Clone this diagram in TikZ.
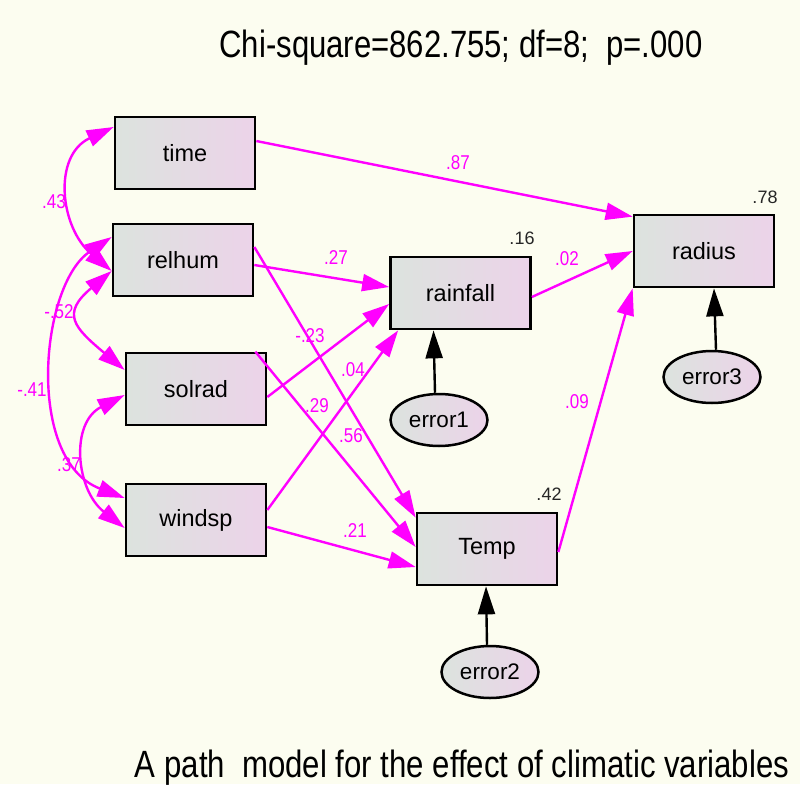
\documentclass[tikz,border=0pt]{standalone}
\usepackage{fontspec}
\usepackage{graphicx}
\setmainfont{Liberation Sans}
\usetikzlibrary{arrows.meta,calc,shapes.geometric}
\definecolor{bgcream}{RGB}{252,253,240}
\definecolor{amosmag}{RGB}{255,0,255}
\definecolor{boxleft}{RGB}{220,227,222}
\definecolor{boxright}{RGB}{236,211,233}
\newcommand{\coefnum}[1]{\scalebox{0.85}[1]{#1}}

\begin{document}
\begin{tikzpicture}[x=1pt,y=-1pt,
  varbox/.style={rectangle, draw=black, line width=2.7pt,
    minimum width=140pt, minimum height=72pt, inner sep=0pt,
    left color=boxleft, right color=boxright,
    font=\fontsize{23.5}{26}\selectfont},
  errnode/.style={ellipse, draw=black, line width=2.5pt,
    minimum width=97pt, minimum height=52pt, inner sep=0pt,
    left color=boxleft, right color=boxright,
    font=\fontsize{22.5}{25}\selectfont},
  regpath/.style={draw=amosmag, line width=2.4pt,
    -{Triangle[length=27pt,width=17pt]}},
  covpath/.style={draw=amosmag, line width=2.4pt,
    {Triangle[length=27pt,width=17pt]}-{Triangle[length=27pt,width=17pt]}},
  errpath/.style={draw=black, line width=2.4pt,
    -{Triangle[length=28pt,width=17pt]}},
  coef/.style={text=amosmag, font=\fontsize{20}{22}\selectfont, inner sep=0pt},
  rsq/.style={text=black!85, font=\fontsize{18}{20}\selectfont, inner sep=0pt},
]
% page and background
\fill[bgcream] (0,0) rectangle (800,784);
\useasboundingbox (0,0) rectangle (800,784);

% title and caption
\node[anchor=base, inner sep=0pt] (title) at (461,57)
  {\fontsize{38}{40}\selectfont\scalebox{0.818}[1]{Chi-square=862.755; df=8;\ \ p=.000}};
\node[anchor=base, inner sep=0pt] (caption) at (462,777)
  {\fontsize{38}{40}\selectfont\scalebox{0.82}[1]{A path\ \ model for the effect of climatic variables}};

% observed variables
\node[varbox] (time)     at (185,153)   {time};
\node[varbox] (relhum)   at (183,260)   {relhum};
\node[varbox] (solrad)   at (196,389)   {solrad};
\node[varbox] (windsp)   at (196,520)   {windsp};
\node[varbox] (rainfall) at (460.5,293) {rainfall};
\node[varbox] (temp)     at (487,549)   {Temp};
\node[varbox] (radius)   at (704,251)   {radius};

% error terms
\node[errnode] (error1) at (439,420) {error1};
\node[errnode] (error2) at (490,672) {error2};
\node[errnode] (error3) at (712,377) {error3};

% squared multiple correlations
\node[rsq] (r2rain)   at (522,238) {.16};
\node[rsq] (r2temp)   at (549,494) {.42};
\node[rsq] (r2radius) at (765,197) {.78};

% regression paths
\draw[regpath] ($(time.east)+(0,-12)$) -- ($(radius.north west)+(0,3)$);
\draw[regpath] ($(relhum.east)+(0,5)$) -- ($(rainfall.west)+(0,-6)$);
\draw[regpath] ($(relhum.east)+(0,-13)$) -- ($(temp.north west)+(0,6)$);
\draw[regpath] ($(solrad.east)+(0,8)$) -- ($(rainfall.west)+(0,11)$);
\draw[regpath] ($(solrad.north east)+(-12,0)$) -- ($(temp.west)+(0,-2)$);
\draw[regpath] ($(windsp.east)+(0,-10)$) -- ($(rainfall.south west)+(9,0)$);
\draw[regpath] ($(windsp.east)+(0,7)$) -- ($(temp.west)+(0,18)$);
\draw[regpath] ($(rainfall.east)+(0,4)$) -- (radius.west);
\draw[regpath] ($(temp.east)+(0,3)$) -- (radius.south west);

% error paths
\draw[errpath] ($(error1.north)+(-4,0)$) -- ($(rainfall.south)+(-27,0)$);
\draw[errpath] ($(error2.north)+(-3,0)$) -- ($(temp.south)+(-1,0)$);
\draw[errpath] ($(error3.north)+(4,0)$) -- ($(radius.south)+(10,0)$);

% covariances among the exogenous variables
\draw[covpath] ($(time.west)+(0,-26)$) to[out=205,in=140,looseness=1.2] ($(relhum.west)+(0,11)$);
\draw[covpath] ($(relhum.west)+(0,-23)$) .. controls (40,285) and (25,460) .. ($(windsp.west)+(0,-22)$);
\draw[covpath] ($(relhum.west)+(0,11)$) to[out=220,in=140,looseness=1.7] ($(solrad.west)+(0,-19)$);
\draw[covpath] ($(solrad.west)+(0,6)$) to[out=207,in=142,looseness=1.19] ($(windsp.west)+(0,8)$);

% path coefficients
\node[coef] (c87) at (458,163) {\coefnum{.87}};
\node[coef] (c27) at (336,258) {\coefnum{.27}};
\node[coef] (cm23) at (310,336) {\coefnum{-.23}};
\node[coef] (c04) at (353,370) {\coefnum{.04}};
\node[coef] (c29) at (317,406) {\coefnum{.29}};
\node[coef] (c56) at (351,436) {\coefnum{.56}};
\node[coef] (c21) at (355,531) {\coefnum{.21}};
\node[coef] (c02) at (567,259) {\coefnum{.02}};
\node[coef] (c09) at (577,402) {\coefnum{.09}};
\node[coef] (c43) at (54,202) {\coefnum{.43}};
\node[coef] (cm52) at (59,312) {\coefnum{-.52}};
\node[coef] (cm41) at (32,390) {\coefnum{-.41}};
\node[coef] (c37) at (69,465) {\coefnum{.37}};
\end{tikzpicture}
\end{document}
